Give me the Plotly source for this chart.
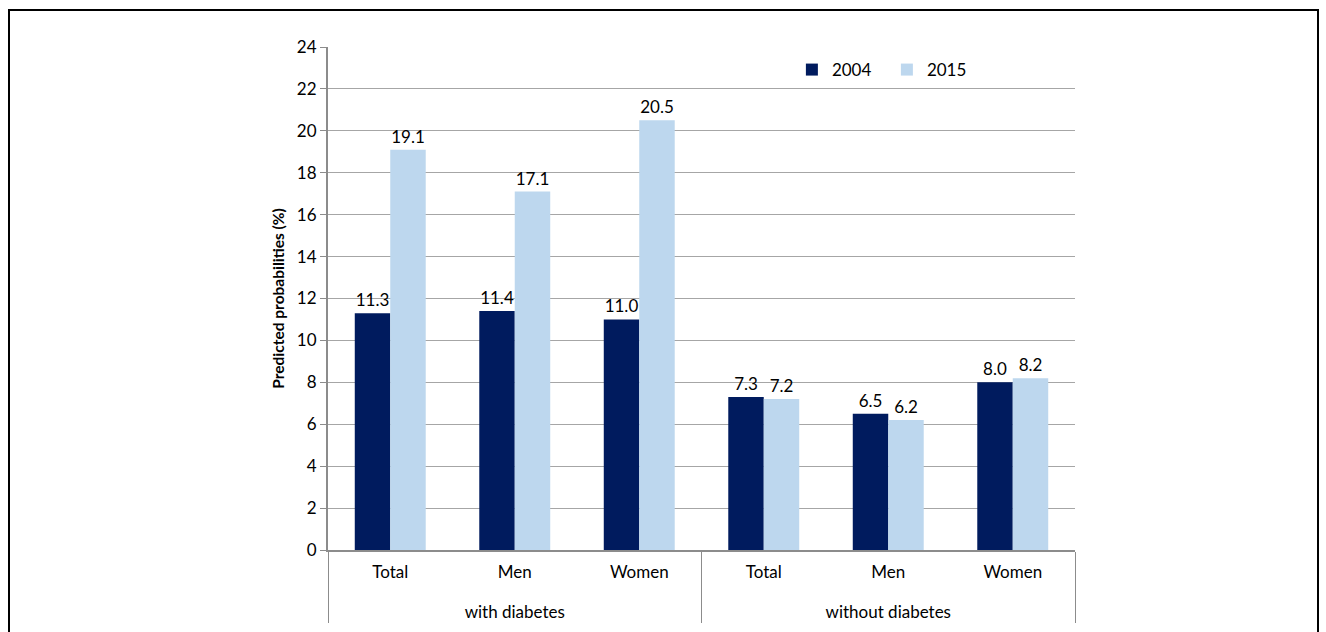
import plotly.graph_objects as go

groups = ["with diabetes"] * 3 + ["without diabetes"] * 3
subcats = ["Total", "Men", "Women", "Total", "Men", "Women"]
values_2004 = [11.3, 11.4, 11.0, 7.3, 6.5, 8.0]
values_2015 = [19.1, 17.1, 20.5, 7.2, 6.2, 8.2]
y_ticks = list(range(0, 25, 2))

W, H = 1326, 632
L, R, T, B = 328, 1075, 47, 550
FS = 17

group_labels = ["<br>" + g for g in groups]

fig = go.Figure()
fig.add_trace(go.Bar(
    x=[group_labels, subcats], y=values_2004, name="2004",
    marker=dict(color="#001b5e", line=dict(width=0)),
    text=[f"{v:.1f}" for v in values_2004], textposition="outside",
    textfont=dict(size=FS, color="black"), cliponaxis=False,
))
fig.add_trace(go.Bar(
    x=[group_labels, subcats], y=values_2015, name="2015",
    marker=dict(color="#bdd7ee", line=dict(width=0)),
    text=[f"{v:.1f}" for v in values_2015], textposition="outside",
    textfont=dict(size=FS, color="black"), cliponaxis=False,
))

pw = R - L
ph = B - T
def px(x):
    return (x - L) / pw
def py(y):
    return (H - y - (H - B)) / ph

fig.add_shape(type="rect", xref="paper", yref="paper",
              x0=px(9), x1=px(1318), y0=py(660), y1=py(10),
              line=dict(color="black", width=2), fillcolor="rgba(0,0,0,0)")

fig.update_layout(
    width=W, height=H,
    margin=dict(l=L, r=W - R, t=T, b=H - B, autoexpand=False),
    paper_bgcolor="white", plot_bgcolor="white",
    font=dict(family="Lato", size=FS, color="black"),
    barmode="group", bargap=0.43, bargroupgap=0,
    showlegend=True,
    legend=dict(orientation="h", x=0.621, y=0.99, xanchor="left", yanchor="top",
                font=dict(size=FS), itemwidth=30, traceorder="normal",
                bgcolor="rgba(0,0,0,0)",
                entrywidthmode="pixels", entrywidth=50),
    xaxis=dict(
        type="multicategory", showline=True, linecolor="#8c8c8c", linewidth=2,
        showdividers=True, dividercolor="#8c8c8c", dividerwidth=1,
        ticks="", tickfont=dict(size=FS), showgrid=False, ticklabelstandoff=6,
    ),
    yaxis=dict(
        range=[0, 24], tickvals=y_ticks, showline=True, linecolor="#8c8c8c", linewidth=2,
        ticks="outside", ticklen=6, tickcolor="#8c8c8c", showgrid=True,
        gridcolor="#a6a6a6", gridwidth=1, zeroline=False,
        tickfont=dict(size=FS),
        title=dict(text="<b>Predicted probabilities (%)</b>", font=dict(size=15.5), standoff=8),
    ),
)

fig.write_html("out.html")
